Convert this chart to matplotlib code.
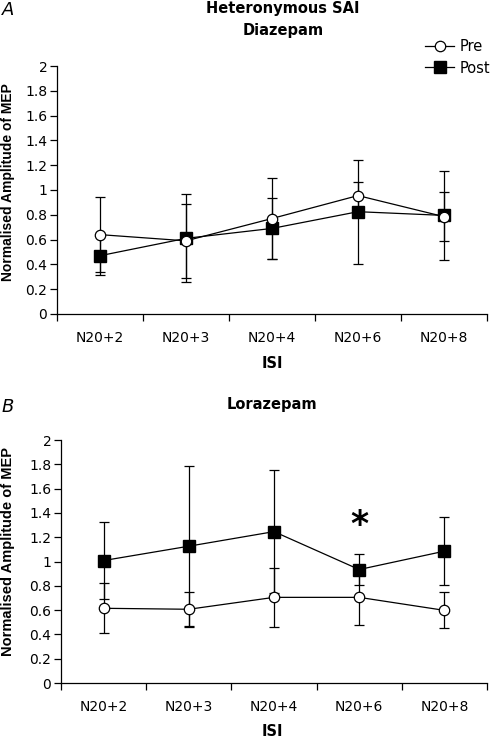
import matplotlib
matplotlib.use("Agg")
import matplotlib.pyplot as plt
from matplotlib.lines import Line2D
from matplotlib.ticker import FixedLocator, NullFormatter, FixedFormatter

plt.rcParams['font.family'] = ['DejaVu Sans']

categories = ["N20+2", "N20+3", "N20+4", "N20+6", "N20+8"]
yticks = [0, 0.2, 0.4, 0.6, 0.8, 1, 1.2, 1.4, 1.6, 1.8, 2]

# Panel A: Diazepam
a_pre = [0.64, 0.59, 0.77, 0.955, 0.785]
a_pre_err = [0.30, 0.30, 0.325, 0.11, 0.20]
a_post = [0.47, 0.61, 0.69, 0.825, 0.795]
a_post_err = [0.155, 0.355, 0.245, 0.42, 0.36]

# Panel B: Lorazepam
b_pre = [0.615, 0.607, 0.705, 0.705, 0.598]
b_pre_err = [0.205, 0.145, 0.24, 0.227, 0.148]
b_post = [1.008, 1.126, 1.246, 0.934, 1.085]
b_post_err = [0.314, 0.66, 0.508, 0.126, 0.28]

fig = plt.figure(figsize=(4.94, 7.40), dpi=100)
axA = fig.add_axes([0.1154, 0.5757, 0.8704, 0.3351])
axB = fig.add_axes([0.1235, 0.0770, 0.8623, 0.3284])

LW = 0.9

def draw(ax, pre, pre_err, post, post_err):
    x = list(range(len(categories)))
    ax.errorbar(x, post, yerr=post_err, color='black', lw=LW, elinewidth=LW,
                capsize=3.5, capthick=LW, marker='s', ms=8, mfc='black',
                mec='black', zorder=2)
    ax.errorbar(x, pre, yerr=pre_err, color='black', lw=LW, elinewidth=LW,
                capsize=3.5, capthick=LW, marker='o', ms=7.5, mfc='white',
                mec='black', mew=LW, zorder=3)
    ax.set_xlim(-0.5, len(categories) - 0.5)
    ax.set_ylim(0, 2)
    ax.yaxis.set_major_locator(FixedLocator(yticks))
    ax.set_yticklabels(["%g" % v for v in yticks])
    ax.xaxis.set_major_locator(FixedLocator([i - 0.5 for i in range(len(categories) + 1)]))
    ax.xaxis.set_major_formatter(NullFormatter())
    ax.xaxis.set_minor_locator(FixedLocator(x))
    ax.xaxis.set_minor_formatter(FixedFormatter(categories))
    ax.tick_params(axis='x', which='minor', length=0, labelsize=10, pad=12)
    ax.tick_params(axis='x', which='major', length=5, width=LW, direction='out')
    ax.tick_params(axis='y', length=5, width=LW, labelsize=10, pad=2)
    for s in ['top', 'right']:
        ax.spines[s].set_visible(False)
    for s in ['left', 'bottom']:
        ax.spines[s].set_linewidth(LW)
    ax.patch.set_alpha(0)

draw(axA, a_pre, a_pre_err, a_post, a_post_err)
draw(axB, b_pre, b_pre_err, b_post, b_post_err)

# titles and labels
tfs = 10.5
fig.text(283/494, 1 - 9/740, "Heteronymous SAI", ha='center', va='center', fontsize=tfs, fontweight='bold')
fig.text(283/494, 1 - 30/740, "Diazepam", ha='center', va='center', fontsize=tfs, fontweight='bold')
fig.text(272/494, 1 - 405/740, "Lorazepam", ha='center', va='center', fontsize=tfs, fontweight='bold')
fig.text(2/494, 1 - 10/740, "A", ha='left', va='center', fontsize=13, style='italic')
fig.text(2/494, 1 - 407/740, "B", ha='left', va='center', fontsize=13, style='italic')
fig.text(272/494, 1 - 363/740, "ISI", ha='center', va='center', fontsize=tfs, fontweight='bold')
fig.text(272/494, 1 - 731/740, "ISI", ha='center', va='center', fontsize=tfs, fontweight='bold')
fig.text(8/494, 1 - 182/740, "Normalised Amplitude of MEP", ha='center', va='center',
         rotation=90, fontsize=10, fontweight='bold', family='Liberation Sans')
fig.text(8/494, 1 - 552/740, "Normalised Amplitude of MEP", ha='center', va='center',
         rotation=90, fontsize=10.5, fontweight='bold', family='Liberation Sans')

# significance marker
axB.text(3, 1.30, "*", ha='center', va='center', fontsize=25, fontweight='bold')

# legend
handles = [
    Line2D([], [], color='black', lw=LW, marker='o', ms=7.5, mfc='white', mec='black', mew=LW),
    Line2D([], [], color='black', lw=LW, marker='s', ms=8, mfc='black', mec='black'),
]
fig.legend(handles, ["Pre", "Post"], loc='upper left', bbox_to_anchor=(425/494, 1 - 39/740),
           frameon=False, fontsize=10.5, handlelength=2.0, handletextpad=0.4,
           labelspacing=0.45, borderaxespad=0.0, borderpad=0.0)

fig.savefig("out.png", dpi=100)
